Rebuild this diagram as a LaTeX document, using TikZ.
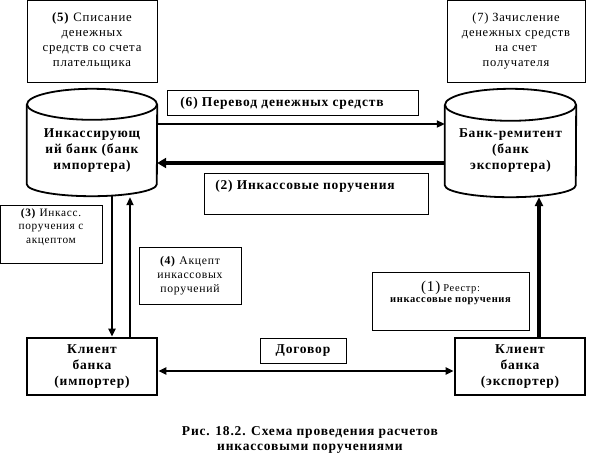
\documentclass[tikz,border=0pt]{standalone}
\usepackage{fontspec}
\setmainfont{Liberation Serif}[LetterSpace=6]
\usetikzlibrary{arrows.meta,calc}
\tikzset{
  lbox/.style={draw, line width=0.8pt, inner sep=0pt, align=center},
  cbox/.style={draw, line width=2.6pt, inner sep=0pt, align=center, minimum width=130pt, minimum height=57pt, font=\fontsize{13.5}{15.8}\selectfont\bfseries},
  cylnode/.style={inner sep=0pt, minimum width=130pt, minimum height=107pt},
  cyl/.style={line width=1.8pt},
  txt/.style={inner sep=0pt, align=center},
  bigtxt/.style={font=\fontsize{13.5}{15.8}\selectfont\bfseries},
  arr/.style={line width=2.6pt, -{Triangle[length=8pt,width=7pt]}},
}
\begin{document}
\begin{tikzpicture}[x=1pt,y=-1pt]
\useasboundingbox (0,0) rectangle (595,461);
% top boxes
\node[lbox, minimum width=130pt, minimum height=82pt, font=\fontsize{12.8}{14.8}\selectfont] (b5) at (92,41)
  {\textbf{(5)} Списание\\денежных\\средств со счета\\плательщика};
\node[lbox, minimum width=138pt, minimum height=82pt, font=\fontsize{12.5}{14.8}\selectfont] (b7) at (516,41)
  {(7) Зачисление\\денежных средств\\на счет\\получателя};
% cylinders
\node[cylnode] (ib) at (92,142.5) {};
\node[cylnode, minimum width=131pt, minimum height=108pt] (rb) at (510.5,143) {};
\draw[cyl] ([yshift=-15.5pt]ib.north) ellipse [x radius=65pt, y radius=15.5pt];
\draw[cyl] ([yshift=-15.5pt]ib.north west) -- ([yshift=12pt]ib.south west)
  arc[start angle=180, end angle=360, x radius=65pt, y radius=12pt] -- ([yshift=-15.5pt]ib.north east);
\draw[cyl] ([yshift=-16pt]rb.north) ellipse [x radius=65.5pt, y radius=16pt];
\draw[cyl] ([yshift=-16pt]rb.north west) -- ([yshift=12pt]rb.south west)
  arc[start angle=180, end angle=360, x radius=65.5pt, y radius=12pt] -- ([yshift=-16pt]rb.north east);
\node[txt, bigtxt] (ibt) at (92,150.5) {Инкассирующ\\ий банк (банк\\импортера)};
\node[txt, bigtxt] (rbt) at (510.5,150.5) {Банк-ремитент\\(банк\\экспортера)};
% box 6
\node[lbox, minimum width=251pt, minimum height=25pt] (b6) at (292.5,102.5) {};
\node[txt, bigtxt] (b6t) at (282,103) {(6) Перевод денежных средств};
% box 2
\node[lbox, minimum width=224pt, minimum height=41pt] (b2) at (316,193.5) {};
\node[txt, bigtxt] (b2t) at (305,186.5) {(2) Инкассовые поручения};
% box 3
\node[lbox, minimum width=102pt, minimum height=58pt, font=\fontsize{11.3}{13.5}\selectfont] (b3) at (51,234)
  {\textbf{(3)} Инкасс.\\поручения с\\акцептом\\[3pt]};
% box 4
\node[lbox, minimum width=102pt, minimum height=57pt, font=\fontsize{11.7}{14}\selectfont] (b4) at (190,275.5)
  {\textbf{(4)} Акцепт\\инкассовых\\поручений};
% box 1
\node[lbox, minimum width=157pt, minimum height=58pt] (b1) at (450.5,301) {};
\node[txt] (b1t) at (450.5,293) {{\fontsize{15}{15}\selectfont(1)} {\fontsize{10.5}{12}\selectfont Реестр:}\\[-1pt]
  {\fontsize{10.5}{12}\selectfont\bfseries инкассовые поручения}};
% clients
\node[cbox] (kl) at (92,366.5) {Клиент\\банка\\(импортер)};
\node[cbox] (kr) at (520,366.5) {Клиент\\банка\\(экспортер)};
\node[lbox, minimum width=86pt, minimum height=25pt, bigtxt] (dg) at (303,350.5) {Договор};
% arrows
\draw[arr] ([yshift=18.5pt]ib.east) -- ([yshift=18.5pt]ib.east -| rb.west);
\draw[line width=4.5pt, -{Triangle[length=9pt,width=10pt]}] ([yshift=-20.5pt]ib.east -| rb.west) -- ([yshift=-20.5pt]ib.east);
\draw[arr] ([xshift=20pt,yshift=1pt]ib.south) -- ([xshift=20pt]ib.south |- kl.north);
\draw[arr] ([xshift=38pt]ib.south |- kl.north) -- ([xshift=38pt,yshift=-1pt]ib.south);
\draw[line width=3.6pt, -{Triangle[length=9pt,width=8pt]}] ([xshift=28.5pt]rb.south |- kr.north) -- ([xshift=28.5pt]rb.south);
\draw[line width=2.6pt, {Triangle[length=8pt,width=7pt]}-{Triangle[length=8pt,width=7pt]}] ([yshift=-4.5pt]kl.east) -- ([yshift=-4.5pt]kl.east -| kr.west);
% caption
\node[txt, font=\fontsize{13.5}{15.8}\selectfont\bfseries] (cap) at (310,440) {Рис. 18.2. Схема проведения расчетов\\инкассовыми поручениями};
\end{tikzpicture}
\end{document}
